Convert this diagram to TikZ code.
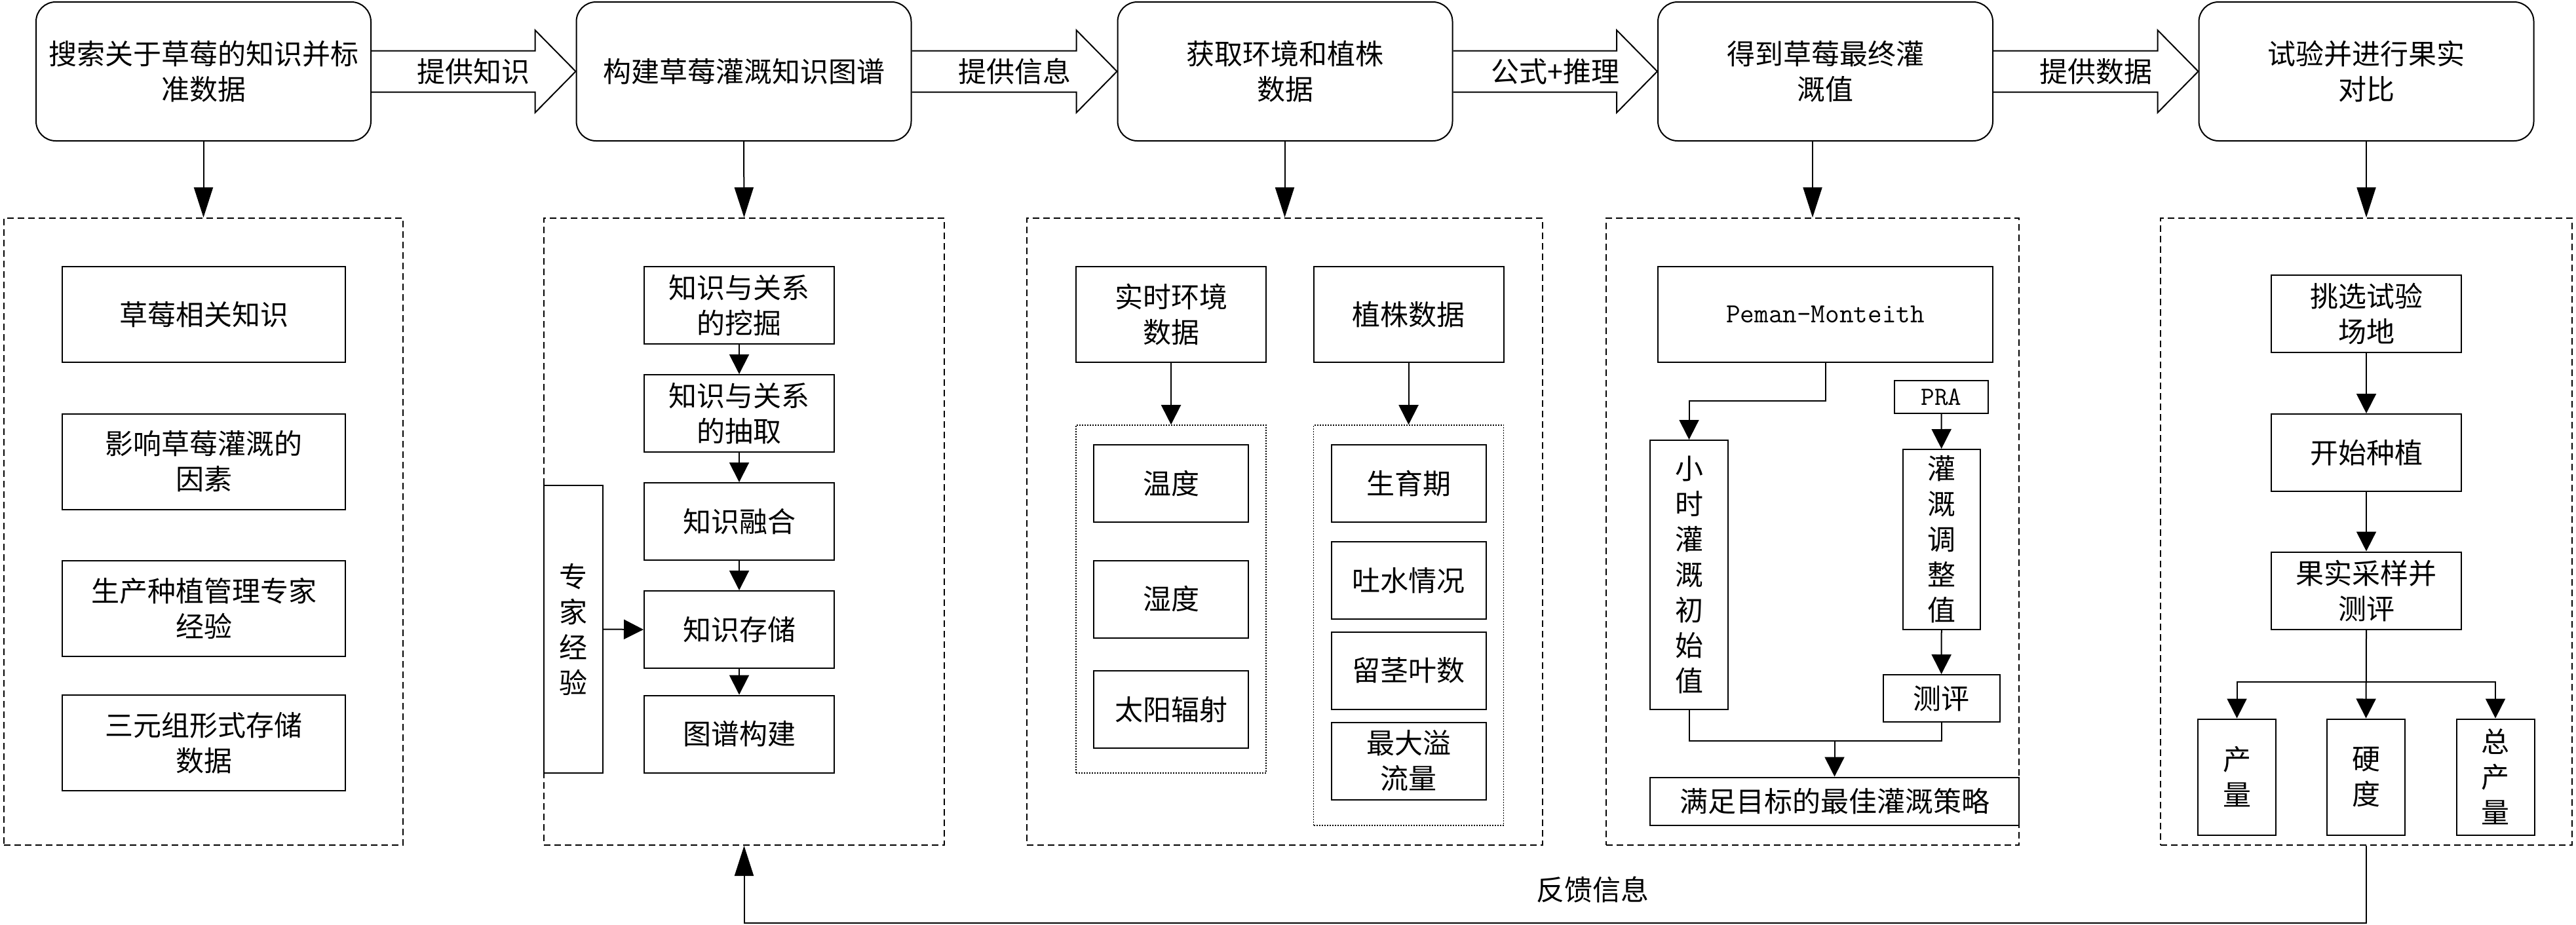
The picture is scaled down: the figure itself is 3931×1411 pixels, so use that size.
\documentclass[tikz,border=0pt]{standalone}
\usepackage{fontspec}
\setmainfont{Noto Sans CJK SC}
\usetikzlibrary{arrows.meta,calc}
\begin{document}
\begin{tikzpicture}[x=1pt,y=-1pt,
  every node/.style={font=\fontsize{43}{54}\selectfont, align=center, inner sep=1pt},
  rbox/.style={draw, line width=2pt, fill=white, rounded corners=30pt, minimum width=511pt, minimum height=212pt},
  sbox/.style={draw, line width=2pt, fill=white},
  dbox/.style={draw, line width=2pt, dash pattern=on 10pt off 6pt},
  obox/.style={draw, line width=1.6pt, dash pattern=on 2pt off 2pt},
  bigarr/.style={line width=2pt, -{Triangle[length=46pt,width=29pt]}},
  arr/.style={line width=2pt, -{Triangle[length=30pt,width=30pt]}},
  plain/.style={line width=2pt},
  barrow/.style={line width=2pt, line join=miter},
  mono/.style={font=\ttfamily\fontsize{42}{50}\selectfont},
]
\useasboundingbox (0,0) rectangle (3931,1411);

% ---------- top row ----------
\node[rbox] (T1) at (310.5,109) {搜索关于草莓的知识并标\\准数据};
\node[rbox] (T2) at (1135,109) {构建草莓灌溉知识图谱};
\node[rbox] (T3) at (1961,109) {获取环境和植株\\数据};
\node[rbox] (T4) at (2785.5,109) {得到草莓最终灌\\溉值};
\node[rbox] (T5) at (3611,109) {试验并进行果实\\对比};

\foreach \a/\b in {T1/T2,T2/T3,T3/T4,T4/T5}{
  \draw[barrow] ($(\a.east)+(0,-31.5)$) -- ($(\b.west)+(-62,-31.5)$) -- ($(\b.west)+(-62,-63)$)
    -- (\b.west) -- ($(\b.west)+(-62,63)$) -- ($(\b.west)+(-62,31.5)$) -- ($(\a.east)+(0,31.5)$);
}
\node (L1) at ($(T1.east)!0.5!(T2.west)$) {提供知识};
\node (L2) at ($(T2.east)!0.5!(T3.west)$) {提供信息};
\node (L3) at ($(T3.east)!0.5!(T4.west)$) {公式+推理};
\node (L4) at ($(T4.east)!0.5!(T5.west)$) {提供数据};

% ---------- dashed containers ----------
\node[dbox, minimum width=609pt, minimum height=957pt] (D1) at (310.5,811.5) {};
\node[dbox, minimum width=611pt, minimum height=957pt] (D2) at (1135.5,811.5) {};
\node[dbox, minimum width=787pt, minimum height=957pt] (D3) at (1960.5,811.5) {};
\node[dbox, minimum width=630pt, minimum height=957pt] (D4) at (2766,811.5) {};
\node[dbox, minimum width=628pt, minimum height=957pt] (D5) at (3611,811.5) {};

\draw[bigarr] (T1.south) -- (D1.north);
\draw[bigarr] (T2.south) -- (D2.north);
\draw[bigarr] (T3.south -| D3.north) -- (D3.north);
\draw[bigarr] (T4.south -| D4.north) -- (D4.north);
\draw[bigarr] (T5.south) -- (D5.north);

% ---------- column 1 ----------
\node[sbox, minimum width=432pt, minimum height=146pt] (A1) at (311,480) {草莓相关知识};
\node[sbox, minimum width=432pt, minimum height=146pt] (A2) at (311,704.5) {影响草莓灌溉的\\因素};
\node[sbox, minimum width=432pt, minimum height=146pt] (A3) at (311,929) {生产种植管理专家\\经验};
\node[sbox, minimum width=432pt, minimum height=146pt] (A4) at (311,1134) {三元组形式存储\\数据};

% ---------- column 2 ----------
\node[sbox, minimum width=290pt, minimum height=118pt] (K1) at (1128,466) {知识与关系\\的挖掘};
\node[sbox, minimum width=290pt, minimum height=118pt] (K2) at (1128,631) {知识与关系\\的抽取};
\node[sbox, minimum width=290pt, minimum height=118pt] (K3) at (1128,796) {知识融合};
\node[sbox, minimum width=290pt, minimum height=118pt] (K4) at (1128,961) {知识存储};
\node[sbox, minimum width=290pt, minimum height=118pt] (K5) at (1128,1120.5) {图谱构建};
\node[sbox, minimum width=90pt, minimum height=439pt] (EX) at (875,960.5) {专\\家\\经\\验};
\draw[arr] (K1) -- (K2);
\draw[arr] (K2) -- (K3);
\draw[arr] (K3) -- (K4);
\draw[arr] (K4) -- (K5);
\draw[arr] (EX.east) -- (K4.west);

% ---------- column 3 ----------
\node[sbox, minimum width=290pt, minimum height=146pt] (E1) at (1787,480) {实时环境\\数据};
\node[sbox, minimum width=290pt, minimum height=146pt] (E2) at (2149.5,480) {植株数据};
\node[obox, minimum width=290pt, minimum height=531pt] (G1) at (1787,914.5) {};
\node[obox, minimum width=290pt, minimum height=611pt] (G2) at (2149.5,954.5) {};
\draw[arr] (E1) -- (G1.north);
\draw[arr] (E2) -- (G2.north);
\node[sbox, minimum width=236pt, minimum height=118pt] (W1) at (1787,738) {温度};
\node[sbox, minimum width=236pt, minimum height=118pt] (W2) at (1787,914.5) {湿度};
\node[sbox, minimum width=236pt, minimum height=118pt] (W3) at (1787,1083) {太阳辐射};
\node[sbox, minimum width=236pt, minimum height=118pt] (P1) at (2149.5,738) {生育期};
\node[sbox, minimum width=236pt, minimum height=118pt] (P2) at (2149.5,886) {吐水情况};
\node[sbox, minimum width=236pt, minimum height=118pt] (P3) at (2149.5,1023.5) {留茎叶数};
\node[sbox, minimum width=236pt, minimum height=118pt] (P4) at (2149.5,1161.5) {最大溢\\流量};

% ---------- column 4 ----------
\node[sbox, minimum width=511pt, minimum height=146pt, mono] (PM) at (2785.5,480) {Peman-Monteith};
\node[sbox, minimum width=119pt, minimum height=411pt] (XS) at (2577.5,877.5) {小\\时\\灌\\溉\\初\\始\\值};
\node[sbox, minimum width=143pt, minimum height=50pt, mono, font=\ttfamily\fontsize{40}{48}\selectfont] (PRA) at (2962.5,606) {PRA};
\node[sbox, minimum width=118pt, minimum height=275pt] (TZ) at (2963,823.5) {灌\\溉\\调\\整\\值};
\node[sbox, minimum width=178pt, minimum height=72pt] (CP) at (2962.5,1066) {测评};
\node[sbox, minimum width=563pt, minimum height=73pt] (BS) at (2799.5,1223) {满足目标的最佳灌溉策略};
\draw[arr] (PM.south) -- ++(0,58) -| (XS.north);
\draw[arr] (PRA) -- (TZ);
\draw[arr] (TZ) -- (CP);
\path (BS.north) ++(0,-54.5) coordinate (JN);
\draw[plain] (XS.south) |- (JN);
\draw[plain] (CP.south) |- (JN);
\draw[arr] (JN) -- (BS.north);

% ---------- column 5 ----------
\node[sbox, minimum width=290pt, minimum height=118pt] (S1) at (3611,479) {挑选试验\\场地};
\node[sbox, minimum width=290pt, minimum height=118pt] (S2) at (3611,691) {开始种植};
\node[sbox, minimum width=290pt, minimum height=118pt] (S3) at (3611,901.5) {果实采样并\\测评};
\node[sbox, minimum width=119pt, minimum height=177pt] (R1) at (3413.5,1186) {产\\量};
\node[sbox, minimum width=119pt, minimum height=177pt] (R2) at (3610.5,1186) {硬\\度};
\node[sbox, minimum width=119pt, minimum height=177pt] (R3) at (3808,1186) {总\\产\\量};
\draw[arr] (S1) -- (S2);
\draw[arr] (S2) -- (S3);
\path (S3.south) ++(0,79) coordinate (BJ);
\draw[arr] (S3.south) -- (R2.north);
\draw[arr] (BJ) -| (R1.north);
\draw[arr] (BJ) -| (R3.north);

% ---------- feedback ----------
\draw[bigarr] (D5.south) -- ++(0,118) -| (D2.south);
\node (FB) at (2430,1358) {反馈信息};
\end{tikzpicture}
\end{document}
